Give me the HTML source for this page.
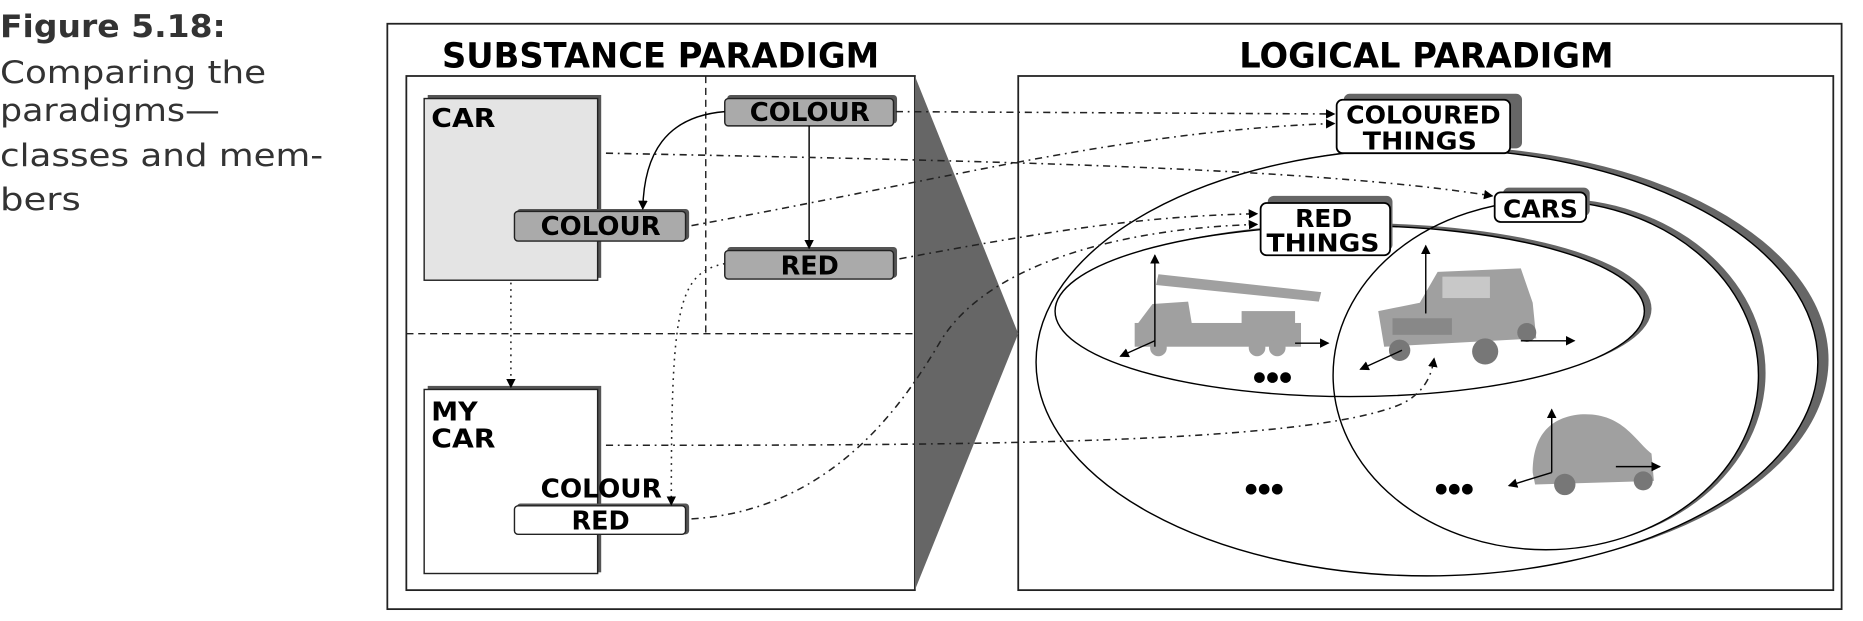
<!DOCTYPE html>
<html><head><meta charset="utf-8"><style>
html,body{margin:0;padding:0;background:#fff;width:1863px;height:621px;overflow:hidden}
svg{display:block}
.l{font-family:"DejaVu Sans","Liberation Sans",sans-serif;font-weight:bold;fill:#000}
.cap{font-family:"DejaVu Sans","Liberation Sans",sans-serif;font-size:26px;fill:#333}
.dd{fill:none;stroke:#222;stroke-width:1.3;stroke-dasharray:6 4 1.5 4}
.dt{fill:none;stroke:#222;stroke-width:1.3;stroke-dasharray:1.5 4}
</style></head><body>
<svg width="1863" height="621" viewBox="0 0 1568 523" preserveAspectRatio="none" xmlns="http://www.w3.org/2000/svg">
<defs>
<marker id="a" markerWidth="8" markerHeight="8" refX="7" refY="4" orient="auto" markerUnits="userSpaceOnUse"><path d="M0,0 L8,4 L0,8 z" fill="#000"/></marker>
</defs>
<text x="0" y="31" class="cap" style="font-weight:bold" textLength="190" lengthAdjust="spacingAndGlyphs">Figure 5.18:</text>
<text x="0" y="70" class="cap" textLength="224" lengthAdjust="spacingAndGlyphs">Comparing the</text>
<text x="0" y="102" class="cap" textLength="185" lengthAdjust="spacingAndGlyphs">paradigms—</text>
<text x="0" y="140" class="cap" textLength="272" lengthAdjust="spacingAndGlyphs">classes and mem-</text>
<text x="0" y="177" class="cap" textLength="68" lengthAdjust="spacingAndGlyphs">bers</text>
<rect x="326" y="20" width="1224" height="493" fill="none" stroke="#222" stroke-width="1.5"/>
<text x="372" y="57" class="l" font-size="29" textLength="368" lengthAdjust="spacingAndGlyphs">SUBSTANCE PARADIGM</text>
<text x="1043" y="57" class="l" font-size="29" textLength="315" lengthAdjust="spacingAndGlyphs">LOGICAL PARADIGM</text>
<rect x="342" y="64" width="428" height="433" fill="none" stroke="#222" stroke-width="1.5"/>
<rect x="857" y="64" width="686" height="433" fill="none" stroke="#222" stroke-width="1.5"/>
<line x1="594" y1="64" x2="594" y2="281" stroke="#222" stroke-dasharray="6 4" stroke-width="1.2"/>
<line x1="342" y1="281" x2="770" y2="281" stroke="#222" stroke-dasharray="6 4" stroke-width="1.2"/>
<polygon points="770,64 857,281 770,497" fill="#666"/>
<rect x="360" y="80" width="146" height="154" fill="#555"/>
<rect x="357" y="83" width="146" height="153" fill="#e4e4e4" stroke="#222" stroke-width="1.2"/>
<text x="363" y="107" class="l" font-size="22" textLength="54" lengthAdjust="spacingAndGlyphs">CAR</text>
<rect x="360" y="325" width="146" height="157" fill="#555"/>
<rect x="357" y="328" width="146" height="155" fill="#fff" stroke="#222" stroke-width="1.2"/>
<text x="363" y="354" class="l" font-size="22" textLength="39" lengthAdjust="spacingAndGlyphs">MY</text>
<text x="363" y="377" class="l" font-size="22" textLength="54" lengthAdjust="spacingAndGlyphs">CAR</text>
<rect x="612" y="80" width="143" height="24" rx="3" fill="#555"/>
<rect x="610" y="83" width="142" height="23" rx="3" fill="#aaa" stroke="#222" stroke-width="1.2"/>
<text x="631" y="102" class="l" font-size="22" textLength="101" lengthAdjust="spacingAndGlyphs">COLOUR</text>
<rect x="435" y="176" width="145" height="26" rx="3" fill="#555"/>
<rect x="433" y="178" width="144" height="25" rx="3" fill="#aaa" stroke="#222" stroke-width="1.2"/>
<text x="455" y="198" class="l" font-size="22" textLength="101" lengthAdjust="spacingAndGlyphs">COLOUR</text>
<rect x="612" y="208" width="143" height="26" rx="3" fill="#555"/>
<rect x="610" y="211" width="142" height="24" rx="3" fill="#aaa" stroke="#222" stroke-width="1.2"/>
<text x="657" y="231" class="l" font-size="22" textLength="49" lengthAdjust="spacingAndGlyphs">RED</text>
<text x="455" y="419" class="l" font-size="22" textLength="102" lengthAdjust="spacingAndGlyphs">COLOUR</text>
<rect x="435" y="424" width="145" height="26" rx="3" fill="#555"/>
<rect x="433" y="426" width="144" height="24" rx="3" fill="#fff" stroke="#222" stroke-width="1.2"/>
<text x="481" y="446" class="l" font-size="22" textLength="49" lengthAdjust="spacingAndGlyphs">RED</text>
<path d="M610,94 C560,98 542,130 541,176" fill="none" stroke="#000" stroke-width="1.2" marker-end="url(#a)"/>
<line x1="681" y1="106" x2="681" y2="209" stroke="#000" stroke-width="1.2" marker-end="url(#a)"/>
<line x1="430" y1="238" x2="430" y2="326" class="dt" marker-end="url(#a)"/>
<path d="M610,222 C570,230 565,260 565,425" class="dt" marker-end="url(#a)"/>
<ellipse cx="1210" cy="303" rx="329" ry="180" fill="#666"/>
<ellipse cx="1201" cy="305" rx="329" ry="180" fill="#fff"/>
<ellipse cx="1308" cy="314" rx="178" ry="147" fill="#666"/>
<ellipse cx="1301" cy="316" rx="179" ry="147" fill="#fff"/>
<ellipse cx="1143" cy="260" rx="247" ry="72" fill="#666"/>
<ellipse cx="1136" cy="262" rx="248" ry="72" fill="#fff"/>
<ellipse cx="1201" cy="305" rx="329" ry="180" fill="none" stroke="#000" stroke-width="1.2"/>
<ellipse cx="1301" cy="316" rx="179" ry="147" fill="none" stroke="#000" stroke-width="1.2"/>
<ellipse cx="1136" cy="262" rx="248" ry="72" fill="none" stroke="#000" stroke-width="1.2"/>
<line x1="754" y1="94" x2="1123" y2="96" class="dd" marker-end="url(#a)"/>
<path d="M510,129 C800,135 1100,140 1256,165" class="dd" marker-end="url(#a)"/>
<path d="M582,190 C800,150 950,110 1123,104" class="dd" marker-end="url(#a)"/>
<path d="M757,218 C880,195 960,182 1058,180" class="dd" marker-end="url(#a)"/>
<path d="M582,437 C700,430 760,340 790,290 C830,220 950,192 1058,189" class="dd" marker-end="url(#a)"/>
<path d="M510,375 C800,375 1100,375 1180,340 C1200,330 1205,315 1207,302" class="dd" marker-end="url(#a)"/>
<rect x="1131" y="79" width="150" height="46" rx="5" fill="#666"/>
<rect x="1125" y="84" width="146" height="45" rx="5" fill="#fff" stroke="#000" stroke-width="1.5"/>
<text x="1133" y="104" class="l" font-size="21" textLength="130" lengthAdjust="spacingAndGlyphs">COLOURED</text>
<text x="1147" y="126" class="l" font-size="21" textLength="96" lengthAdjust="spacingAndGlyphs">THINGS</text>
<rect x="1265" y="158" width="73" height="24" rx="5" fill="#666"/>
<rect x="1258" y="162" width="77" height="25" rx="5" fill="#fff" stroke="#000" stroke-width="1.5"/>
<text x="1265" y="183" class="l" font-size="21" textLength="63" lengthAdjust="spacingAndGlyphs">CARS</text>
<rect x="1067" y="165" width="105" height="46" rx="5" fill="#666"/>
<rect x="1061" y="171" width="109" height="44" rx="5" fill="#fff" stroke="#000" stroke-width="1.5"/>
<text x="1090" y="191" class="l" font-size="21" textLength="48" lengthAdjust="spacingAndGlyphs">RED</text>
<text x="1066" y="212" class="l" font-size="21" textLength="95" lengthAdjust="spacingAndGlyphs">THINGS</text>
<g fill="#a0a0a0">
<rect x="955" y="272" width="140" height="20"/>
<path d="M958,272 L970,256 L1000,254 L1003,272 Z"/>
<rect x="1045" y="262" width="45" height="14"/>
<path d="M975,231 L1112,246 L1110,254 L973,240 Z"/>
<circle cx="975" cy="293" r="7"/><circle cx="1058" cy="293" r="7"/><circle cx="1075" cy="293" r="7"/>
</g>
<g stroke="#000" stroke-width="1.2" fill="none">
<line x1="972" y1="292" x2="972" y2="215" marker-end="url(#a)"/>
<line x1="1090" y1="289" x2="1118" y2="289" marker-end="url(#a)"/>
<line x1="972" y1="287" x2="943" y2="300" marker-end="url(#a)"/>
</g>
<g fill="#a0a0a0">
<path d="M1160,262 L1195,255 L1210,229 L1280,226 L1290,255 L1293,285 L1165,292 Z"/>
<circle cx="1178" cy="295" r="9" fill="#777"/><circle cx="1250" cy="296" r="11" fill="#777"/><circle cx="1285" cy="280" r="8" fill="#777"/>
<rect x="1214" y="233" width="40" height="18" fill="#c8c8c8"/>
<rect x="1172" y="268" width="50" height="14" fill="#888"/>
</g>
<g stroke="#000" stroke-width="1.2" fill="none">
<line x1="1200" y1="264" x2="1200" y2="207" marker-end="url(#a)"/>
<line x1="1280" y1="287" x2="1325" y2="287" marker-end="url(#a)"/>
<line x1="1180" y1="295" x2="1145" y2="311" marker-end="url(#a)"/>
</g>
<g fill="#a0a0a0">
<path d="M1290,398 C1290,372 1300,352 1330,349 C1365,347 1375,370 1390,382 L1392,405 L1292,408 Z"/>
<circle cx="1317" cy="408" r="9" fill="#777"/><circle cx="1383" cy="405" r="8" fill="#777"/>
</g>
<g stroke="#000" stroke-width="1.2" fill="none">
<line x1="1306" y1="398" x2="1306" y2="345" marker-end="url(#a)"/>
<line x1="1360" y1="393" x2="1397" y2="393" marker-end="url(#a)"/>
<line x1="1306" y1="398" x2="1270" y2="409" marker-end="url(#a)"/>
</g>
<g fill="#000">
<circle cx="1060" cy="318" r="4.5"/><circle cx="1071" cy="318" r="4.5"/><circle cx="1082" cy="318" r="4.5"/>
<circle cx="1053" cy="412" r="4.5"/><circle cx="1064" cy="412" r="4.5"/><circle cx="1075" cy="412" r="4.5"/>
<circle cx="1213" cy="412" r="4.5"/><circle cx="1224" cy="412" r="4.5"/><circle cx="1235" cy="412" r="4.5"/>
</g>
</svg>
</body></html>
